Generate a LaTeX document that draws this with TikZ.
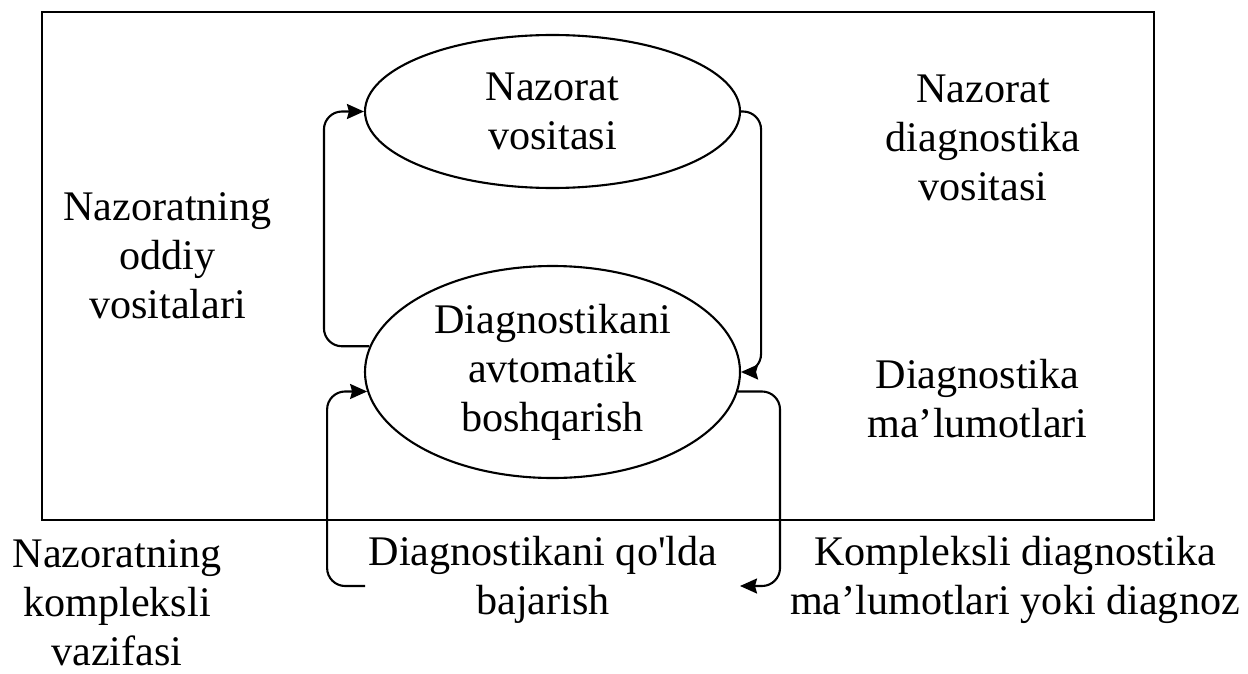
\documentclass[tikz,border=0pt]{standalone}
\usepackage{fontspec}
\setmainfont{Liberation Serif}
\usetikzlibrary{positioning,shapes.geometric,arrows.meta}

\begin{document}
\begin{tikzpicture}[
  x=1cm, y=1cm,
  every node/.style={font=\fontsize{12}{13.9}\selectfont},
  ovalbox/.style={draw, line width=0.6pt, ellipse, inner sep=0pt, align=center},
  lbl/.style={align=center, anchor=base, inner sep=0pt},
  flow/.style={-{Stealth[length=1.7mm, width=1.5mm, inset=0.2mm]}, line width=0.6pt,
               rounded corners=0.18cm}
]
\useasboundingbox (0,0) rectangle (12.48,-6.73);

% ---- cadre ----
\draw[line width=0.75pt] (0.42,-0.12) rectangle (11.54,-5.20);

% ---- les deux ellipses ----
\node[ovalbox, minimum width=3.75cm, minimum height=1.53cm] (nazorat) at (5.525,-1.115)
     {Nazorat\\vositasi};
\node[ovalbox, minimum width=3.75cm, minimum height=2.12cm] (avtomat) at (5.525,-3.72)
     {Diagnostikani\\avtomatik\\boshqarish};

% ---- textes libres (base = derniere ligne) ----
\node[lbl] (oddiy) at (1.675,-3.18) {Nazoratning\\oddiy\\vositalari};
\node[lbl] (nzdiag) at (9.83,-2.00) {Nazorat\\diagnostika\\vositasi};
\node[lbl] (dgmal) at (9.775,-4.37) {Diagnostika\\ma’lumotlari};
\node[lbl] (kompvaz) at (1.17,-6.65) {Nazoratning\\kompleksli\\vazifasi};
\node[lbl] (qolda) at (5.43,-6.14) {Diagnostikani qo\textquotesingle lda\\bajarish};
\node[lbl] (diagnoz) at (10.15,-6.14) {Kompleksli diagnostika\\ma’lumotlari yoki diagnoz};

% ---- boucles ----
\draw[flow] (avtomat.172) -| ([xshift=-0.4cm]nazorat.west) -- (nazorat.west);
\draw[flow] (nazorat.east) -| ([xshift=0.2cm]avtomat.east) -- (avtomat.east);

\coordinate (qin)  at (3.65,-5.86);
\coordinate (qout) at (7.40,-5.86);
\draw[flow] (qin) -| ([xshift=-0.4cm]avtomat.186) -- (avtomat.186);
\draw[flow] (avtomat.-6) -| ([xshift=0.4cm]qout) -- (qout);

\end{tikzpicture}
\end{document}
